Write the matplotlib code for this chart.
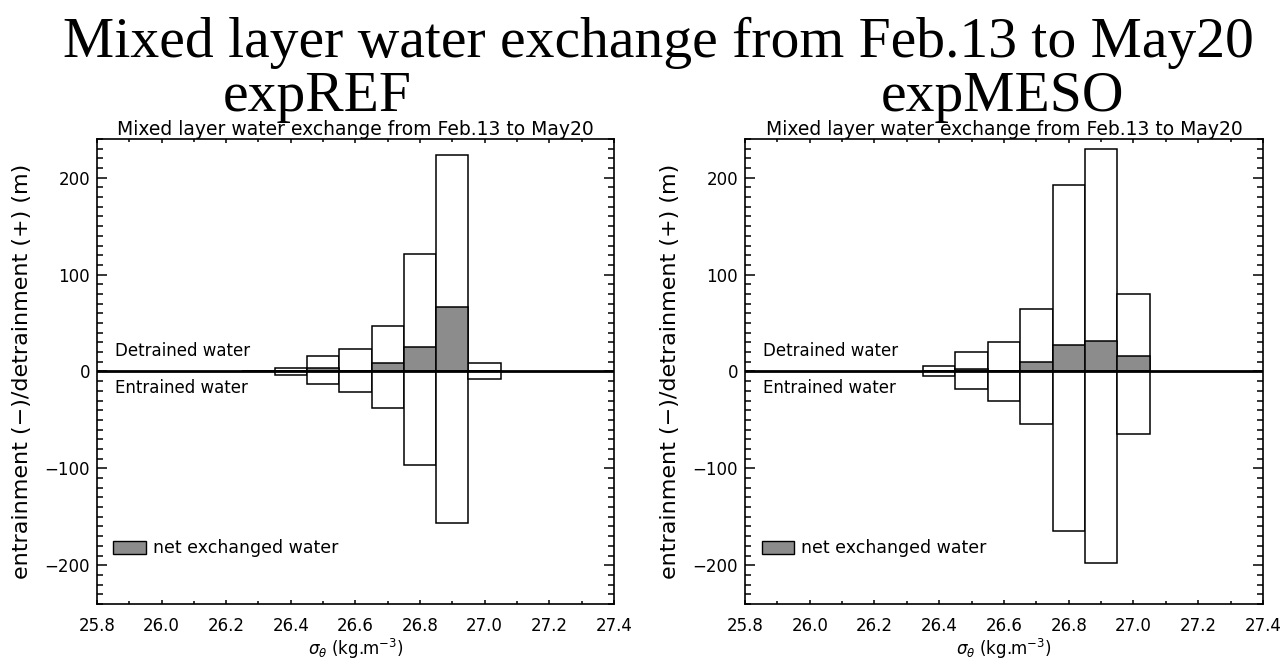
import numpy as np
import matplotlib.pyplot as plt
from matplotlib.patches import Patch
from matplotlib.ticker import MultipleLocator

# density classes (bin centres, kg.m-3) and water exchange per class (m)
sigma_ref = [26.3, 26.4, 26.5, 26.6, 26.7, 26.8, 26.9, 27.0]
detrain_ref = [0.0, 4.1, 15.9, 22.8, 46.9, 121.4, 223.0, 8.3]
entrain_ref = [0.0, -3.7, -13.0, -21.7, -38.2, -96.2, -156.2, -7.9]
net_ref = [0.0, 0.4, 3.1, 1.0, 8.7, 24.8, 66.9, 0.4]

sigma_meso = [26.4, 26.5, 26.6, 26.7, 26.8, 26.9, 27.0]
detrain_meso = [5.2, 20.4, 30.4, 64.8, 192.4, 229.9, 80.3]
entrain_meso = [-4.4, -18.2, -30.3, -54.4, -164.7, -198.2, -64.4]
net_meso = [0.8, 2.8, 0.1, 10.0, 27.6, 31.7, 15.9]

period = 'Mixed layer water exchange from Feb.13 to May20'
fs = 12
grey = '#8c8c8c'


def exchange_panel(ax, sig, det, ent, net):
    ax.bar(sig, det, width=0.1, color='white', edgecolor='black', linewidth=1.1, zorder=2)
    ax.bar(sig, ent, width=0.1, color='white', edgecolor='black', linewidth=1.1, zorder=2)
    ax.bar(sig, net, width=0.1, color=grey, edgecolor='black', linewidth=1.1, zorder=3)
    ax.axhline(0, color='black', linewidth=2, zorder=4)

    ax.set_xlim(25.8, 27.4)
    ax.set_ylim(-240, 240)
    ax.xaxis.set_major_locator(MultipleLocator(0.2))
    ax.xaxis.set_minor_locator(MultipleLocator(0.1))
    ax.yaxis.set_major_locator(MultipleLocator(100))
    ax.yaxis.set_minor_locator(MultipleLocator(10))
    ax.xaxis.set_major_formatter(plt.FormatStrFormatter('%.1f'))
    ax.tick_params(which='both', direction='in', top=True, right=True,
                   labelsize=fs, width=1.1)
    ax.tick_params(axis='y', which='major', length=7, pad=5)
    ax.tick_params(axis='y', which='minor', length=4.3)
    ax.tick_params(axis='x', which='major', length=3, pad=9.5)
    ax.tick_params(axis='x', which='minor', length=2.5)
    for s in ax.spines.values():
        s.set_linewidth(1.2)

    ax.text(25.855, 20.7, 'Detrained water', fontsize=fs, va='center', ha='left')
    ax.text(25.855, -17.2, 'Entrained water', fontsize=fs, va='center', ha='left')
    ax.legend(handles=[Patch(facecolor=grey, edgecolor='black', label='net exchanged water')],
              loc='lower left', bbox_to_anchor=(0.032, 0.10), frameon=False,
              fontsize=12.5, borderpad=0, borderaxespad=0,
              handlelength=1.85, handleheight=0.85, handletextpad=0.4)

    ax.set_title(period, fontsize=13.5, pad=1)
    ax.set_xlabel(r'$\sigma_\theta$ (kg.m$^{-3}$)', fontsize=fs, labelpad=1)
    ax.set_ylabel('entrainment (\u2212)/detrainment (+) (m)', fontsize=16)
    ax.yaxis.set_label_coords(-0.125, 0.5)


fig = plt.figure(figsize=(12.84, 6.59), dpi=100)
ax1 = fig.add_axes([0.0755, 0.0835, 0.4026, 0.7056])
ax2 = fig.add_axes([0.5802, 0.0835, 0.4034, 0.7056])

exchange_panel(ax1, sigma_ref, detrain_ref, entrain_ref, net_ref)
exchange_panel(ax2, sigma_meso, detrain_meso, entrain_meso, net_meso)

fig.text(0.513, 0.913, period, fontsize=41.5, family='Liberation Serif',
         ha='center', va='baseline')
fig.text(0.247, 0.832, 'expREF', fontsize=41.5, family='Liberation Serif',
         ha='center', va='baseline')
fig.text(0.781, 0.832, 'expMESO', fontsize=41.5, family='Liberation Serif',
         ha='center', va='baseline')

fig.savefig('out.png', dpi=100)
